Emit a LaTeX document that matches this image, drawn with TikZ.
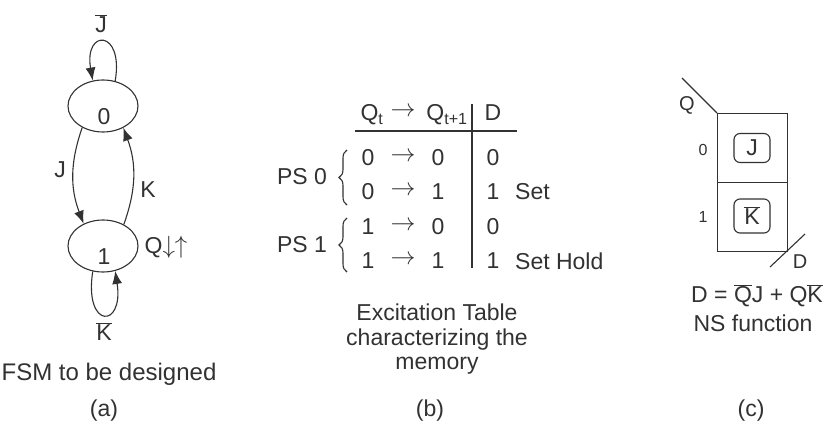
\documentclass[tikz,border=0pt]{standalone}
\usepackage{fontspec}
\setmainfont{Liberation Sans}
\usetikzlibrary{shapes.geometric,arrows.meta,decorations.pathreplacing}
\definecolor{ink}{RGB}{50,50,50}
\begin{document}
\begin{tikzpicture}[x=1pt,y=-1pt,
  every node/.style={text=ink},
  txt/.style={inner sep=0pt, font=\fontsize{23}{28}\selectfont},
  small/.style={inner sep=0pt, font=\fontsize{16}{19}\selectfont},
  state/.style={draw=ink, line width=1.1pt, ellipse, minimum width=70pt, minimum height=52pt, inner sep=0pt},
  arr/.style={draw=ink, line width=1.1pt, -{Latex[length=13pt,width=10pt]}},
  ln/.style={draw=ink, line width=1.1pt},
  cell/.style={draw=ink, line width=1.1pt, minimum width=70pt, minimum height=69pt, inner sep=0pt},
  rbox/.style={draw=ink, line width=1.1pt, rounded corners=6pt, minimum width=36pt, inner sep=0pt},
  brc/.style={draw=ink, line width=1.1pt, decorate, decoration={brace, amplitude=8pt}}
]
\path[fill=white, use as bounding box] (0,0) rectangle (825,428);

% ---------- (a) FSM ----------
\node[state] (s0) at (103,106) {};
\node[state] (s1) at (103,246) {};
\node[txt] (l0) at (104,117) {0};
\node[txt] (l1) at (104,257) {1};
\draw[arr] (s0.64) .. controls +(9,-52) and +(-9,-52) .. (s0.112);
\draw[arr] (s1.-112) .. controls +(-9,58) and +(9,58) .. (s1.-64);
\draw[arr] (s0.226) to[bend right=20] (s1.131);
\draw[arr] (s1.46) to[bend right=20] (s0.313);
\node[txt] (jb) at (101,24) {$\overline{\mbox{J}}$};
\node[txt] (jl) at (60,170) {J};
\node[txt] (kl) at (148,190) {K};
\node[txt] (qa) at (166,247) {Q$\downarrow\uparrow$};
\node[txt] (kb) at (104,332) {$\overline{\mbox{K}}$};
\node[txt, font=\fontsize{24}{28}\selectfont] (capa) at (109,374) {FSM to be designed};
\node[txt] (pa) at (104,411) {(a)};

% ---------- (b) Excitation table ----------
\node[txt] (hq) at (372,115) {Q\textsubscript{t}};
\node[txt] (ha) at (403,112) {$\rightarrow$};
\node[txt] (hq1) at (447,115) {Q\textsubscript{t+1}};
\node[txt] (hd) at (493,113) {D};
\coordinate (hl1) at (355,131);
\coordinate (hl2) at (517,131);
\draw[ln] (hl1) -- (hl2);
\coordinate (vl1) at (472,104);
\coordinate (vl2) at (472,268);
\draw[ln] (vl1) -- (vl2);
\foreach \i/\y/\a/\b/\d in {1/158/0/0/0, 2/192/0/1/1, 3/227/1/0/0, 4/261/1/1/1} {
  \node[txt] (ra\i) at (368,\y) {\a};
  \node[txt] (rr\i) at (403,\y-1) {$\rightarrow$};
  \node[txt] (rb\i) at (438,\y) {\b};
  \node[txt] (rd\i) at (493,\y) {\d};
}
\node[txt, anchor=west] (set1) at (515,192) {Set};
\node[txt, anchor=west] (set2) at (515,261) {Set Hold};
\coordinate (b0a) at (347,205);
\coordinate (b0b) at (347,150);
\coordinate (b1a) at (347,272);
\coordinate (b1b) at (347,218);
\draw[brc] (b0a) -- (b0b);
\draw[brc] (b1a) -- (b1b);
\node[txt] (ps0) at (302,177) {PS 0};
\node[txt] (ps1) at (302,245) {PS 1};
\node[txt] (capb1) at (437,312) {Excitation Table};
\node[txt] (capb2) at (437,340) {characterizing the};
\node[txt] (capb3) at (437,366) {memory};
\node[txt] (pb) at (430,411) {(b)};

% ---------- (c) K-map ----------
\node[cell, anchor=north west] (c0) at (717,113) {};
\node[cell, anchor=north west] (c1) at (717,182) {};
\node[rbox, minimum height=29pt, txt] (jbox) at (752,148) {J};
\node[rbox, minimum height=34pt, txt] (kbox) at (752,216) {$\overline{\mbox{K}}$};
\coordinate (qd) at (682,78);
\draw[ln] (qd) -- (c0.north west);
\coordinate (dd1) at (770,267);
\coordinate (dd2) at (805,234);
\draw[ln] (dd1) -- (dd2);
\node[txt, font=\fontsize{20}{24}\selectfont] (ql) at (687,105) {Q};
\node[txt, font=\fontsize{20}{24}\selectfont] (dl) at (800,262) {D};
\node[small] (r0) at (703,150) {0};
\node[small] (r1) at (703,217) {1};
\node[txt] (eq) at (757,296) {D = $\overline{\mbox{Q}}$J + Q$\overline{\mbox{K}}$};
\node[txt] (ns) at (753,323) {NS function};
\node[txt] (pc) at (751,411) {(c)};
\end{tikzpicture}
\end{document}
